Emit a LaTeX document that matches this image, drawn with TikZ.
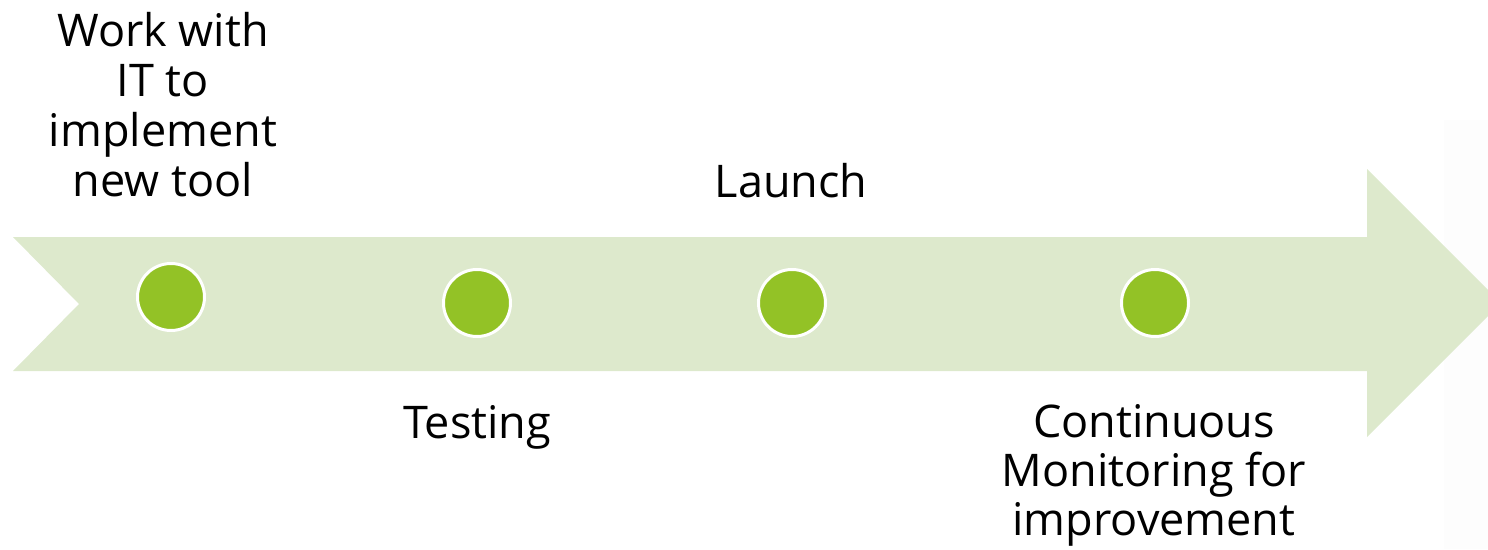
\documentclass[tikz,border=0pt]{standalone}
\usepackage{fontspec}
\setmainfont{Open Sans}
\definecolor{bandgreen}{HTML}{DDE9CC}
\definecolor{dotgreen}{HTML}{93C226}
\definecolor{paleback}{HTML}{FDFDFD}
\begin{document}
\begin{tikzpicture}[x=1pt,y=-1pt,
  dot/.style={circle,fill=dotgreen,draw=white,line width=3pt,minimum size=67pt,inner sep=0pt},
  label/.style={align=center,inner sep=0pt,font=\fontsize{45}{50}\selectfont},
  tightlabel/.style={label,font=\fontsize{45}{49}\selectfont}]
\useasboundingbox (0,0) rectangle (1488,549);
\fill[paleback] (1444,120) rectangle (1488,549);
\begin{scope}
\clip (0,0) rectangle (1488,549);
% timeline arrow with notched tail
\fill[bandgreen] (13,237) -- (1367,237) -- (1367,169) -- (1501,303) -- (1367,437)
  -- (1367,371) -- (13,371) -- (79,304) -- cycle;
\end{scope}
% milestones
\node[dot] (d1) at (171,297) {};
\node[dot] (d2) at (477,303) {};
\node[dot] (d3) at (792,303) {};
\node[dot] (d4) at (1155,303) {};
% step labels
\node[label,anchor=north] (t1) at (163,12) {Work with\\IT to\\implement\\new tool};
\node[label,anchor=base] (t3) at (791,197) {Launch};
\node[label,anchor=base] (t2) at (477,438) {Testing};
\node[tightlabel,anchor=north] (t4) at (1154,404) {Continuous\\Monitoring for\\improvement};
\end{tikzpicture}
\end{document}
